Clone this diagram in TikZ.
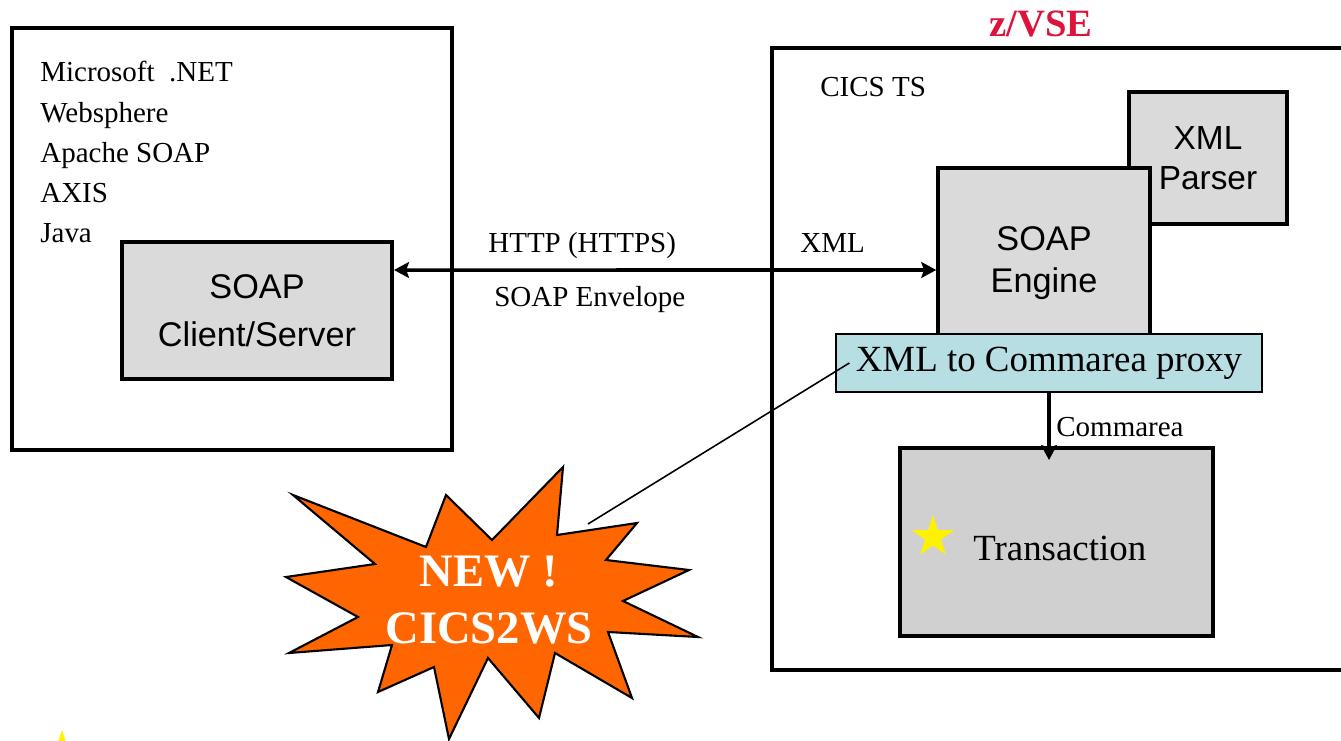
\documentclass[tikz,border=0pt]{standalone}
\usepackage{fontspec}
\setmainfont{Liberation Serif}
\setsansfont{Liberation Sans}
\usetikzlibrary{arrows.meta}
\usetikzlibrary{shapes.geometric}

\definecolor{boxgray}{HTML}{DADADA}
\definecolor{transgray}{HTML}{D0D0D0}
\definecolor{proxycyan}{HTML}{B7DEE3}
\definecolor{burstorange}{HTML}{FF6600}
\definecolor{zvsered}{HTML}{DC143C}

\begin{document}
\begin{tikzpicture}[x=0.02cm, y=-0.02cm, >={Stealth[length=8.5pt, width=9pt, inset=1.5pt]},
  boxframe/.style={rectangle, draw, line width=2.3pt, inner sep=0pt},
  grayblock/.style={boxframe, fill=boxgray, align=center, font=\sffamily\fontsize{19.5}{27}\selectfont},
  txt/.style={inner sep=0pt, anchor=base west, font=\fontsize{16.5}{20}\selectfont},
  starmark/.style={star, star points=5, star point ratio=2.618, fill=yellow, minimum size=0.88cm, inner sep=0pt},
  burst/.style={fill=burstorange, draw=black, line width=1.2pt, line join=miter},
  link/.style={line width=2pt}]

  \useasboundingbox (0,0) rectangle (1341,740);
  \clip (0,0) rectangle (1341,740);

  \node[boxframe, minimum width=8.8cm, minimum height=8.44cm] (host) at (231.6,239) {};
  \node[boxframe, minimum width=12.16cm, minimum height=12.43cm] (zvse) at (1076,359) {};

  \node[txt] (ms) at (40,82) {Microsoft\ \ .NET};
  \node[txt] (ws) at (40,122) {Websphere};
  \node[txt] (apache) at (40,162) {Apache SOAP};
  \node[txt] (axis) at (40,202) {AXIS};
  \node[txt] (java) at (40,242) {Java};
  \node[grayblock, minimum width=5.4cm, minimum height=2.74cm] (client) at (257,310.5) {SOAP\\Client/Server};

  \node[txt, anchor=base, text=zvsered, font=\bfseries\fontsize{22}{26}\selectfont] (zvselbl) at (1041,37) {z/VSE};
  \node[txt] (cics) at (820,96) {CICS TS};
  \node[grayblock, font=\sffamily\fontsize{19}{22.7}\selectfont, minimum width=3.17cm, minimum height=2.65cm] (parser) at (1208,158) {XML\\Parser};
  \node[grayblock, font=\sffamily\fontsize{19.5}{23.8}\selectfont, minimum width=4.23cm, minimum height=3.8cm] (engine) at (1044,263) {SOAP\\Engine};
  \node[draw, line width=0.8pt, fill=proxycyan, minimum width=8.52cm, minimum height=1.16cm, inner sep=0pt, font=\fontsize{21}{24}\selectfont] (proxy) at (1049,363) {XML to Commarea proxy};
  \node[boxframe, fill=transgray, minimum width=6.26cm, minimum height=3.76cm] (trans) at (1056.5,542) {};
  \node[starmark] (transstar) at (933,537) {};
  \node[txt, font=\fontsize{21}{24}\selectfont] (translbl) at (973,560) {Transaction};
  \path (proxy.south |- trans.north) ++(0,14) coordinate (commtip);

  \draw[link, <->] ([yshift=0.81cm]client.east) -- ([yshift=-0.14cm]engine.west);
  \node[txt] (http) at (488,252) {HTTP (HTTPS)};
  \node[txt] (env) at (494,306) {SOAP Envelope};
  \node[txt] (xml) at (800,252) {XML};

  \draw[link, ->] (proxy.south) -- (commtip);
  \node[txt] (commlbl) at (1056,436) {Commarea};

  \draw[burst] (293,495) -- (426,547) -- (446,495) -- (492,540) -- (563,467) -- (557,535)
    -- (637,523) -- (606,560) -- (689,570) -- (623,601) -- (698,637) -- (608,632)
    -- (632,698) -- (555,653) -- (539,718) -- (488,658) -- (449,739) -- (434,667)
    -- (378,692) -- (392,645) -- (289,653) -- (358,617) -- (286,577) -- (375,564) -- cycle;
  \node[align=center, text=white, inner sep=0pt, font=\bfseries\fontsize{26.5}{32.3}\selectfont] (newtag) at (489,600) {NEW !\\CICS2WS};
  \coordinate (calloutfoot) at (588,524);
  \draw[line width=0.9pt] (calloutfoot) -- ([xshift=0.28cm]proxy.west);

  \node[starmark] (cornerstar) at (62,752) {};
\end{tikzpicture}
\end{document}
